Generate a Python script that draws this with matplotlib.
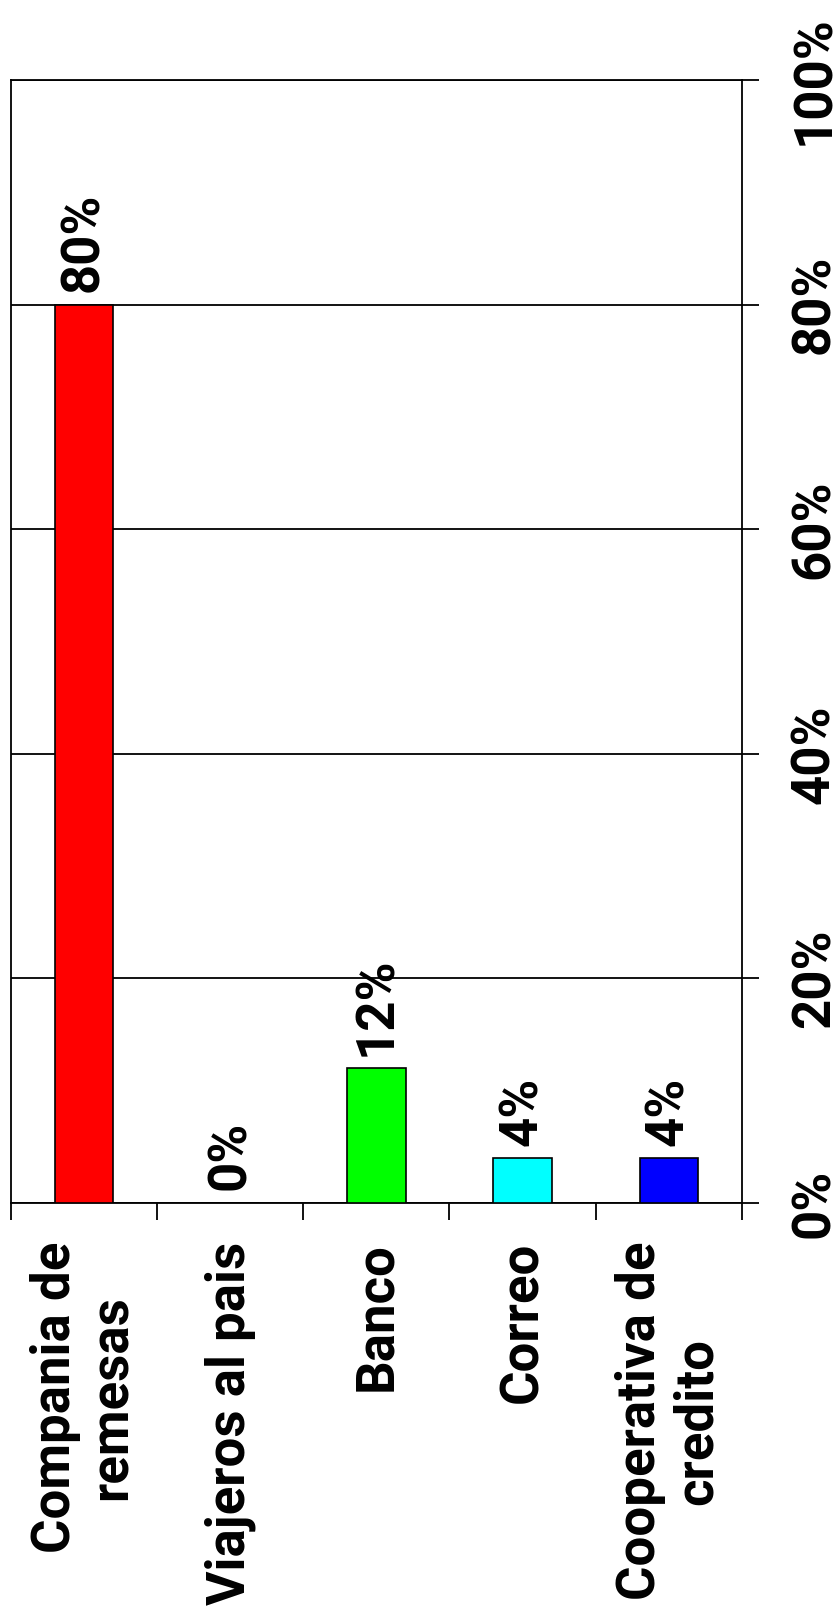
import matplotlib
matplotlib.use("Agg")
import matplotlib.pyplot as plt

categorias = ["Compania de\nremesas", "Viajeros al pais", "Banco", "Correo", "Cooperativa de\ncredito"]
valores = [80, 0, 12, 4, 4]
colores = ["#FF0000", "#FFFF00", "#00FF00", "#00FFFF", "#0000FF"]
ticks_y = [0, 20, 40, 60, 80, 100]
etiquetas_y = ["0%", "20%", "40%", "60%", "80%", "100%"]

plt.rcParams["font.family"] = ["Roboto", "DejaVu Sans"]
plt.rcParams["font.weight"] = "bold"
tam = 38

fig = plt.figure(figsize=(8.37, 16.16), dpi=100)
ax = fig.add_axes([0.0128, 0.2556, 0.8737, 0.6949])

x = list(range(len(categorias)))
barras = ax.bar(x, valores, width=0.4, color=colores, edgecolor="black", linewidth=1.2, zorder=3)
ax.bar_label(barras, labels=[f"{v}%" for v in valores], padding=9, rotation=90,
             fontsize=tam, fontweight="bold")

ax.set_xlim(-0.5, len(categorias) - 0.5)
ax.set_ylim(0, 100)

# ticks del eje y a la derecha
ax.yaxis.tick_right()
ax.set_yticks(ticks_y)
ax.set_yticklabels(etiquetas_y, rotation=90, va="center", fontsize=tam, fontweight="bold")
ax.tick_params(axis="y", direction="out", length=12, width=1.3, pad=22)
ax.yaxis.grid(True, color="black", linewidth=1.3, zorder=0)

# marcas entre categorias, etiquetas en el centro
ax.set_xticks([i - 0.5 for i in range(len(categorias) + 1)])
ax.set_xticklabels([])
ax.set_xticks(x, minor=True)
ax.set_xticklabels(categorias, minor=True, rotation=90, fontsize=tam, fontweight="bold",
                   ha="center", va="top", linespacing=1.15)
ax.tick_params(axis="x", which="major", direction="out", length=12, width=1.3)
ax.tick_params(axis="x", which="minor", length=0, pad=28)

for s in ax.spines.values():
    s.set_linewidth(1.3)
    s.set_color("black")

fig.savefig("out.png", dpi=100, facecolor="white")
